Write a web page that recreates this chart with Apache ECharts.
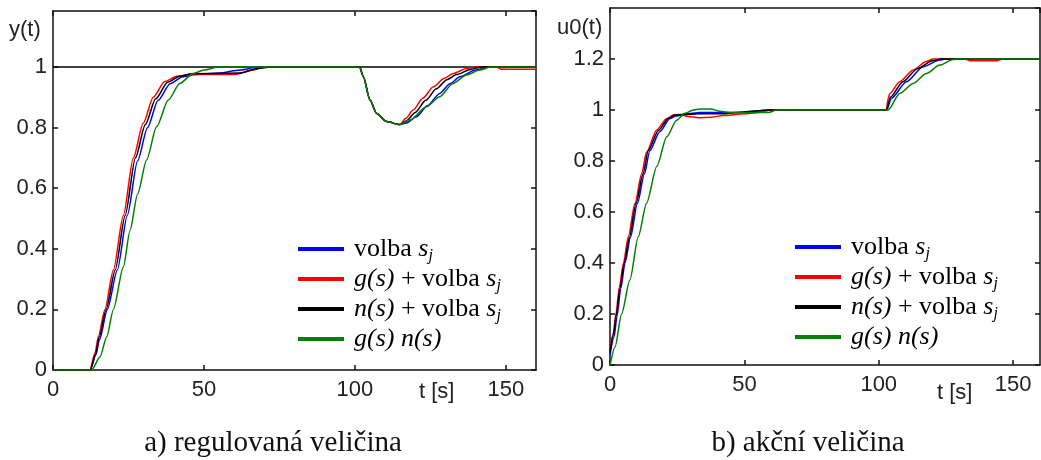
<!DOCTYPE html>
<html>
<head>
<meta charset="utf-8">
<script src="https://cdn.jsdelivr.net/npm/echarts@6/dist/echarts.min.js"></script>
<style>
  html, body { margin: 0; padding: 0; background: #fff; }
  #chart { width: 1041px; height: 460px; }
</style>
</head>
<body>
<div id="chart"></div>
<script>
// ---- series names (legend order) ----
const seriesNames = ['volba sj', 'g(s) + volba sj', 'n(s) + volba sj', 'g(s) n(s)'];
const seriesColors = ['#0000ff', '#ff0000', '#000000', '#008000'];

// ---- axis ticks ----
const xTicks = [0, 50, 100, 150];
const yTicksLeft = [0, 0.2, 0.4, 0.6, 0.8, 1];
const yTicksRight = [0, 0.2, 0.4, 0.6, 0.8, 1, 1.2];

// ---- a) controlled variable y(t): [t, y] ----
const yBlue = [[0,0],[12.4,0],[14.2,0.05],[15.4,0.1],[18,0.2],[21.3,0.33],[24.6,0.51],[28,0.69],[31.3,0.8],[34.8,0.89],[38.8,0.945],[43,0.968],[47,0.975],[55,0.98],[62,0.99],[68,1],[101.6,1],[102.8,0.968],[105,0.891],[107.2,0.847],[110.5,0.82],[114.9,0.81],[117,0.815],[120.4,0.836],[124,0.872],[128.1,0.913],[131.5,0.945],[134.8,0.968],[140,0.99],[144,1],[160,1]];
const yRed = [[0,0],[12.2,0],[13.9,0.055],[15,0.11],[17.2,0.2],[20,0.33],[23.3,0.51],[26.6,0.7],[29.9,0.815],[33.2,0.9],[37,0.952],[41,0.97],[45,0.975],[60,0.975],[66,0.99],[70,1],[101.6,1],[102.8,0.968],[105,0.891],[107.2,0.847],[110.5,0.82],[114.9,0.81],[116.8,0.83],[119.3,0.858],[122.5,0.897],[126,0.935],[129.5,0.962],[132.6,0.979],[137,0.995],[140,1],[147,1],[148.5,0.993],[160,0.993]];
const yBlack = [[0,0],[12.3,0],[14.1,0.052],[15.3,0.108],[17.6,0.2],[20.6,0.33],[23.9,0.51],[27.3,0.7],[30.6,0.81],[34,0.895],[38,0.95],[42,0.97],[46,0.978],[62,0.98],[68,0.995],[72,1],[101.6,1],[102.8,0.968],[105,0.891],[107.2,0.847],[110.5,0.82],[114.9,0.81],[117,0.822],[120,0.85],[123.5,0.89],[127,0.928],[130.5,0.958],[133.7,0.975],[138.5,0.993],[142,1],[160,1]];
const yGreen = [[0,0],[12.8,0],[15.6,0.044],[17.8,0.11],[20,0.2],[23.3,0.34],[25.5,0.46],[28,0.58],[31,0.693],[34.3,0.803],[38.2,0.891],[42,0.946],[46.5,0.979],[50,0.99],[55,1],[101.5,1],[102.8,0.968],[105,0.891],[107.2,0.847],[110.5,0.82],[114.9,0.81],[118.2,0.825],[123.7,0.869],[128.1,0.902],[132.5,0.946],[137,0.974],[141.4,0.99],[145,1],[160,1]];
const yReference = [[0,1],[160,1]];

// ---- b) manipulated variable u0(t): [t, u] ----
const uBlue = [[0,0.04],[1.5,0.11],[2.6,0.19],[4,0.3],[5.6,0.4],[7.6,0.5],[10.2,0.634],[12.8,0.75],[14.8,0.84],[18.5,0.915],[22.3,0.967],[24.5,0.976],[28,0.985],[33.5,0.99],[41,0.99],[46,0.99],[60,1],[103,1],[104.7,1.046],[110.3,1.111],[116.5,1.17],[122.7,1.196],[125,1.2],[160,1.2]];
const uRed = [[0,0.06],[1.2,0.124],[2.2,0.2],[3.5,0.307],[5,0.4],[6.8,0.503],[9.3,0.634],[11.8,0.751],[13.6,0.835],[17.4,0.922],[21.1,0.967],[23.5,0.98],[26,0.982],[29,0.975],[33,0.97],[38,0.972],[42,0.978],[50,0.985],[55,0.99],[60,1],[102.8,1],[103.5,1.045],[104.1,1.065],[107.8,1.111],[112.8,1.157],[117.7,1.19],[120.2,1.2],[132,1.2],[134,1.193],[144,1.193],[146,1.2],[160,1.2]];
const uBlack = [[0,0.05],[1.3,0.12],[2.4,0.2],[3.7,0.3],[5.3,0.4],[7.2,0.5],[9.7,0.634],[12.3,0.75],[14.2,0.84],[18,0.92],[21.7,0.967],[24,0.98],[28,0.982],[33,0.985],[42,0.985],[47,0.99],[60,1],[102.9,1],[104.3,1.05],[109,1.111],[114.5,1.163],[120,1.193],[123,1.2],[160,1.2]];
const uGreen = [[0,0],[1.9,0.072],[4.3,0.2],[7.4,0.333],[10.5,0.503],[13.6,0.634],[17.4,0.778],[21.1,0.895],[24.8,0.96],[27.9,0.987],[31,1],[33.5,1.004],[37.5,1.004],[41,0.995],[45,0.99],[59,0.99],[62,1],[103.5,1],[107.8,1.065],[112.8,1.104],[117.7,1.143],[122.7,1.176],[127.6,1.198],[130,1.2],[160,1.2]];

const leftData = [yBlue, yRed, yBlack, yGreen];
const rightData = [uBlue, uRed, uBlack, uGreen];

// ---- styling helpers ----
const SANS = 'Liberation Sans, Arial, sans-serif';
const SERIF = 'Liberation Serif, Times New Roman, serif';
const INK = '#222';

const legendMarkup = {
  'volba sj': '{n|volba }{i|s}{sub|j}',
  'g(s) + volba sj': '{i|g(s)}{n| + volba }{i|s}{sub|j}',
  'n(s) + volba sj': '{i|n(s)}{n| + volba }{i|s}{sub|j}',
  'g(s) n(s)': '{i|g(s) n(s)}'
};
const legendRich = {
  n: { fontFamily: SERIF, fontSize: 26, lineHeight: 30, color: '#000' },
  i: { fontFamily: SERIF, fontStyle: 'italic', fontSize: 26, lineHeight: 30, color: '#000' },
  sub: { fontFamily: SERIF, fontStyle: 'italic', fontSize: 16, lineHeight: 12, verticalAlign: 'bottom', color: '#000' }
};

function legendFor(left, top) {
  return {
    orient: 'vertical', left: left, top: top,
    icon: 'rect', itemWidth: 46, itemHeight: 4, itemGap: 2,
    selectedMode: false,
    data: seriesNames,
    formatter: name => legendMarkup[name],
    textStyle: { padding: [0, 0, 0, 5], rich: legendRich }
  };
}

const frameLine = { show: true, onZero: false, lineStyle: { color: '#111', width: 1.5 } };
const innerTick = { show: true, inside: true, length: 5, lineStyle: { color: '#111', width: 1.5 } };

function fmt(list) {
  return v => {
    const r = Math.round(v * 100) / 100;
    return list.indexOf(r) >= 0 ? String(r) : '';
  };
}

function xAxes(gridIndex) {
  const base = { type: 'value', gridIndex, min: 0, max: 160, interval: 50, splitLine: { show: false },
                 axisLine: frameLine, axisTick: innerTick };
  return [
    Object.assign({}, base, { position: 'bottom',
      axisLabel: { show: true, margin: 9, fontFamily: SANS, fontSize: 22, color: INK, formatter: fmt(xTicks), showMaxLabel: false } }),
    Object.assign({}, base, { position: 'top', axisLabel: { show: false } })
  ];
}
function yAxes(gridIndex, max, ticks) {
  const base = { type: 'value', gridIndex, min: 0, max: max, interval: 0.2, splitLine: { show: false },
                 axisLine: frameLine, axisTick: innerTick };
  return [
    Object.assign({}, base, { position: 'left',
      axisLabel: { show: true, margin: 6, fontFamily: SANS, fontSize: 22, color: INK, formatter: fmt(ticks), showMaxLabel: false } }),
    Object.assign({}, base, { position: 'right', axisLabel: { show: false } })
  ];
}

function curve(name, color, data, axisBase) {
  return {
    name, type: 'line', data, xAxisIndex: axisBase, yAxisIndex: axisBase,
    showSymbol: false, smooth: 0.25, smoothMonotone: 'x',
    lineStyle: { color, width: 1.5 }, itemStyle: { color }, silent: true
  };
}

const series = [
  { name: 'reference', type: 'line', data: yReference, xAxisIndex: 0, yAxisIndex: 0, showSymbol: false,
    lineStyle: { color: '#000', width: 1.5 }, itemStyle: { color: '#000' }, silent: true }
];
seriesNames.forEach((n, k) => series.push(curve(n, seriesColors[k], leftData[k], 0)));
seriesNames.forEach((n, k) => series.push(curve(n, seriesColors[k], rightData[k], 2)));

const textEl = (x, y, text, font, align, fill) => ({
  type: 'text', x, y, silent: true,
  style: { text, font, fill: fill || INK, align: align || 'left', verticalAlign: 'middle' }
});

const option = {
  animation: false,
  backgroundColor: '#fff',
  grid: [
    { left: 53, top: 11, width: 483, height: 359 },
    { left: 610, top: 8, width: 430, height: 357 }
  ],
  xAxis: xAxes(0).concat(xAxes(1)),
  yAxis: yAxes(0, 1.185, yTicksLeft).concat(yAxes(1, 1.4, yTicksRight)),
  legend: [legendFor(293, 231), legendFor(790, 229)],
  series,
  graphic: [
    textEl(9, 30, 'y(t)', '22px ' + SANS),
    textEl(557, 28, 'u0(t)', '22px ' + SANS),
    textEl(419, 392, 't [s]', '22px ' + SANS),
    textEl(937, 393, 't [s]', '22px ' + SANS),
    textEl(273, 443, 'a) regulovaná veličina', '29px ' + SERIF, 'center', '#111'),
    textEl(808, 443, 'b) akční veličina', '29px ' + SERIF, 'center', '#111')
  ]
};

const chart = echarts.init(document.getElementById('chart'), null, { renderer: 'canvas' });
chart.setOption(option);
</script>
</body>
</html>
